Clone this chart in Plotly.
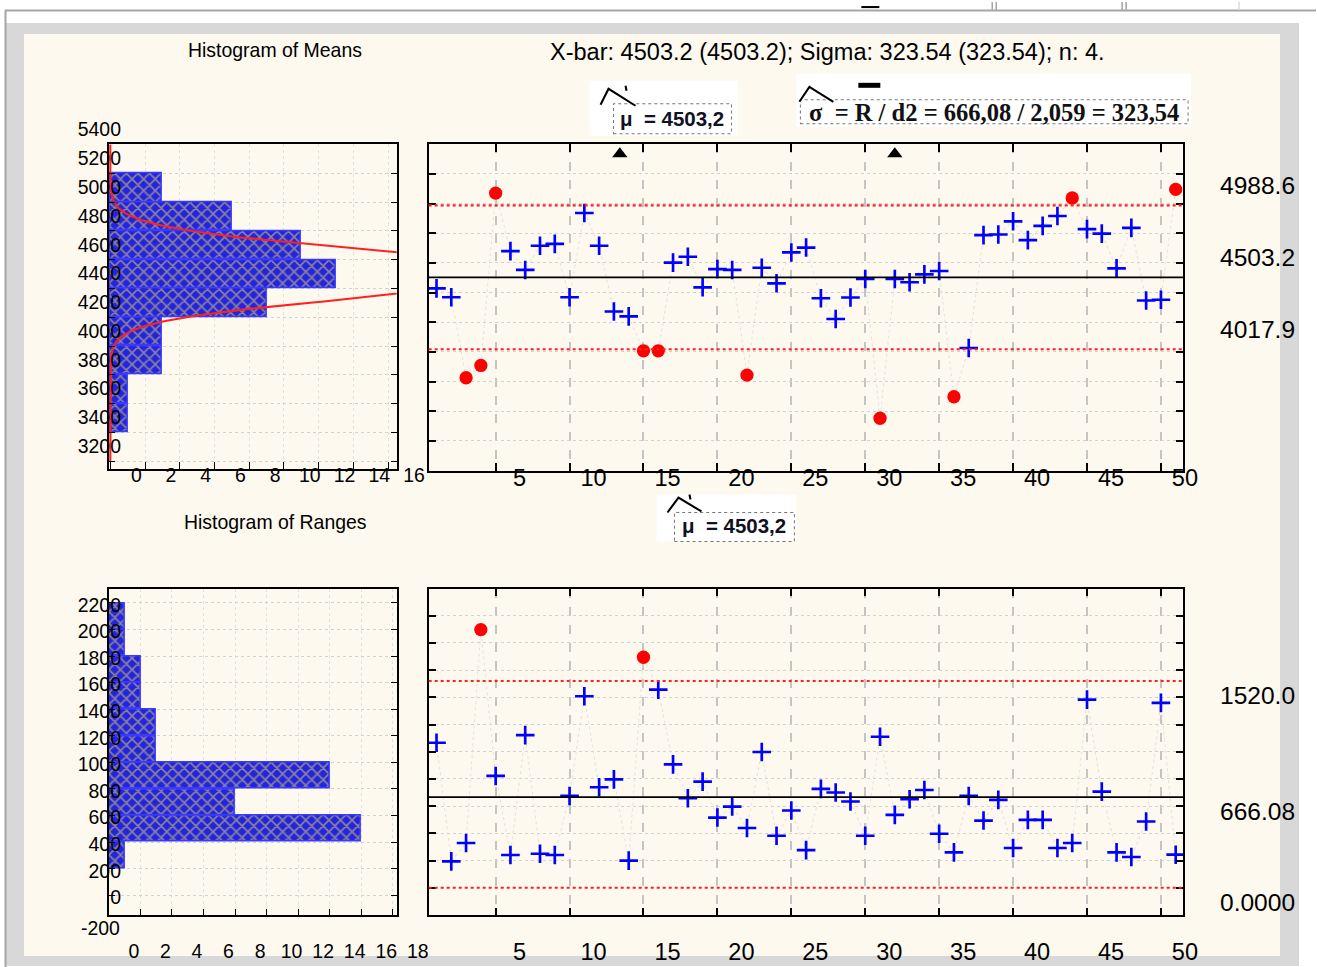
import numpy as np
import plotly.graph_objects as go

# reference canvas (px) and render canvas
W, H = 1317, 967
W2, H2 = 1348, 990
K = W2 / W
DY = 24  # vertical offset applied by the page capture

# ---------------- data ----------------
samples = list(range(1, 52))
means = [4429, 4369, 3826, 3909, 5071, 4680, 4553, 4716, 4729, 4369,
         4937, 4716, 4273, 4240, 4008, 4008, 4602, 4642, 4436, 4559,
         4553, 3844, 4568, 4463, 4671, 4704, 4362, 4222, 4367, 4492,
         3553, 4492, 4470, 4523, 4546, 3698, 4027, 4788, 4792, 4881,
         4754, 4850, 4917, 5038, 4828, 4798, 4564, 4837, 4347, 4352, 5096]
ranges = [1066, 194, 329, 1898, 822, 241, 1122, 250, 241, 675,
          1408, 739, 797, 199, 1695, 1457, 907, 658, 780, 516,
          597, 439, 998, 382, 568, 277, 727, 700, 634, 382,
          1110, 536, 651, 719, 397, 260, 675, 494, 646, 292,
          499, 499, 292, 329, 1383, 707, 260, 226, 487, 1359, 243]

xbar_center, xbar_ucl, xbar_lcl = 4503.2, 4988.6, 4017.9
r_center, r_ucl, r_lcl = 666.08, 1520.0, 0.0
sigma, n_size = 323.54, 4

mean_bin_centers = [3500, 3700, 3900, 4100, 4300, 4500, 4700, 4900, 5100]
mean_bin_counts = [1, 1, 3, 3, 9, 13, 11, 7, 3]
range_bin_centers = [300, 500, 700, 900, 1100, 1300, 1500, 1700, 1900, 2100]
range_bin_counts = [1, 16, 8, 14, 3, 3, 2, 2, 1, 1]

sample_ticks = [5, 10, 15, 20, 25, 30, 35, 40, 45, 50]
mean_ticks = list(range(3200, 5401, 200))
range_ticks = list(range(0, 2201, 200))
hist_mean_xticks = list(range(0, 17, 2))
hist_range_xticks = list(range(0, 19, 2))
flag_x = [13.4, 32.0]

xbar_labels = ["4988.6", "4503.2", "4017.9"]
r_labels = ["1520.0", "666.08", "0.0000"]
title_text = "X-bar: 4503.2 (4503.2); Sigma: 323.54 (323.54); n: 4."

# ---------------- helpers ----------------
def fx(p):
    return p / W

def fy(p):
    return 1 - (p - DY) / H

def k(v):
    return v * K

def ki(v):
    return int(round(v * K))

SANS = "Liberation Sans, Arial, sans-serif"
SERIF = "Liberation Serif, Times New Roman, serif"

fig = go.Figure()

# ---- histogram of means ----
pattern = dict(shape="x", fgcolor="#f0e448", bgcolor="#2424e0", size=k(8), solidity=0.36)
bar_marker = dict(color="#2424e0", line=dict(color="#3a3aff", width=k(1.5)), pattern=pattern)
fig.add_trace(go.Bar(orientation="h", y=mean_bin_centers, x=mean_bin_counts, width=196,
                     xaxis="x2", yaxis="y2", marker=bar_marker))
sig_m = sigma / np.sqrt(n_size)
ycurve = np.linspace(3200, 5400, 400)
peak = sum(mean_bin_counts) * 200 / (sig_m * np.sqrt(2 * np.pi))
xcurve = peak * np.exp(-0.5 * ((ycurve - xbar_center) / sig_m) ** 2)
fig.add_trace(go.Scatter(x=xcurve, y=ycurve, mode="lines", xaxis="x2", yaxis="y2",
                         line=dict(color="#ff2020", width=k(2))))

# ---- histogram of ranges ----
fig.add_trace(go.Bar(orientation="h", y=range_bin_centers, x=range_bin_counts, width=196,
                     xaxis="x4", yaxis="y4", marker=bar_marker))

# ---- control charts ----
def split(vals, lo, hi):
    inx, iny, outx, outy = [], [], [], []
    for s, v in zip(samples, vals):
        if v > hi or v < lo:
            outx.append(s); outy.append(v)
        else:
            inx.append(s); iny.append(v)
    return inx, iny, outx, outy

for vals, lo, hi, xa, ya in [(means, xbar_lcl, xbar_ucl, "x", "y"),
                             (ranges, r_lcl, r_ucl, "x3", "y3")]:
    fig.add_trace(go.Scatter(x=samples, y=vals, mode="lines", xaxis=xa, yaxis=ya,
                             line=dict(color="#e2e2e2", width=k(1), dash="dot")))
    inx, iny, outx, outy = split(vals, lo, hi)
    fig.add_trace(go.Scatter(x=inx, y=iny, mode="markers", xaxis=xa, yaxis=ya,
                             marker=dict(symbol="cross-thin", size=k(13),
                                         line=dict(color="#0000ff", width=k(2.6)))))
    fig.add_trace(go.Scatter(x=outx, y=outy, mode="markers", xaxis=xa, yaxis=ya,
                             marker=dict(symbol="circle", size=k(13), color="#ff0000")))

fig.add_trace(go.Scatter(x=flag_x, y=[mean_ticks[-1] - 65] * len(flag_x), mode="markers",
                         xaxis="x", yaxis="y",
                         marker=dict(symbol="triangle-up", size=k(13), color="black")))

# ---------------- axes ----------------
tickfont_main = dict(family=SANS, size=k(23), color="black")
tickfont_hist = dict(family=SANS, size=k(19), color="black")
common = dict(showline=True, linecolor="black", linewidth=k(2), zeroline=False,
              ticks="inside", tickcolor="black")

main_x = dict(domain=[fx(429), fx(1184)], range=[0.47, 51.5], tickvals=sample_ticks,
              mirror="ticks", ticklen=k(7), tickwidth=k(1.5), showgrid=True, gridcolor="#c4c4c4",
              gridwidth=k(1.5), griddash="dash", tickfont=tickfont_main, ticklabelshift=ki(23), **common)
main_y = dict(side="right", showticklabels=False, mirror="ticks", ticklen=k(7), tickwidth=k(1.5),
              showgrid=True, gridcolor="#d2d2d2", griddash="dot", gridwidth=k(1), **common)

fig.update_layout(
    xaxis=dict(anchor="y", ticklabelstandoff=ki(-15), **main_x),
    yaxis=dict(anchor="x", domain=[fy(470), fy(142.7)], range=[3200, 5400],
               tickvals=mean_ticks, **main_y),
    xaxis3=dict(anchor="y3", ticklabelstandoff=ki(15), **main_x),
    yaxis3=dict(anchor="x3", domain=[fy(915.7), fy(588.3)], range=[-200, 2200],
                tickvals=range_ticks, **main_y),
    xaxis2=dict(anchor="y2", domain=[fx(109), fx(397)], range=[-0.08, 16.5],
                tickvals=hist_mean_xticks, mirror=True, ticklen=k(6), showgrid=True,
                gridcolor="#e2e2e2", griddash="dot", tickfont=tickfont_hist,
                ticklabelshift=ki(25), ticklabelstandoff=ki(-12), **common),
    yaxis2=dict(anchor="x2", domain=[fy(468), fy(142.7)], range=[3148, 5402],
                tickvals=mean_ticks, mirror="ticks", ticklen=k(6), showgrid=True,
                gridcolor="#d2d2d2", griddash="dot", tickfont=tickfont_hist,
                ticklabelshift=ki(-15), ticklabelstandoff=ki(-18), **common),
    xaxis4=dict(anchor="y4", domain=[fx(109), fx(397)], range=[0, 18.25],
                tickvals=hist_range_xticks, mirror=True, ticklen=k(6), showgrid=True,
                gridcolor="#e2e2e2", griddash="dot", tickfont=tickfont_hist,
                ticklabelshift=ki(24), ticklabelstandoff=ki(18), **common),
    yaxis4=dict(anchor="x4", domain=[fy(915.7), fy(588.3)], range=[-148, 2308],
                tickvals=range_ticks, mirror="ticks", ticklen=k(6), showgrid=True,
                gridcolor="#d2d2d2", griddash="dot", tickfont=tickfont_hist,
                ticklabelshift=ki(2), ticklabelstandoff=ki(-18), **common),
)

# ---------------- shapes ----------------
shapes = []
shapes.append(dict(type="rect", xref="paper", yref="paper", x0=fx(6), x1=fx(1300), y0=fy(967), y1=fy(21),
                   fillcolor="#d8d8d8", line=dict(width=0), layer="below"))
shapes.append(dict(type="rect", xref="paper", yref="paper", x0=fx(24), x1=fx(1281), y0=fy(957), y1=fy(32),
                   fillcolor="#fdf9ef", line=dict(width=0), layer="below"))
shapes.append(dict(type="line", xref="paper", yref="paper", x0=fx(5), x1=1, y0=fy(8.5), y1=fy(8.5),
                   line=dict(color="#a6a6a6", width=k(2)), layer="below"))
shapes.append(dict(type="line", xref="paper", yref="paper", x0=fx(5.5), x1=fx(5.5), y0=0, y1=fy(8.5),
                   line=dict(color="#a6a6a6", width=k(2)), layer="below"))
for xv in [993, 997, 1123, 1127]:
    shapes.append(dict(type="line", xref="paper", yref="paper", x0=fx(xv), x1=fx(xv), y0=fy(8), y1=fy(0),
                       line=dict(color="#a6a6a6", width=k(1.5))))
shapes.append(dict(type="line", xref="paper", yref="paper", x0=fx(1240), x1=fx(1240), y0=fy(8), y1=fy(0),
                   line=dict(color="#dcdcdc", width=k(1.5))))
shapes.append(dict(type="line", xref="paper", yref="paper", x0=fx(862), x1=fx(880), y0=fy(5), y1=fy(5),
                   line=dict(color="black", width=k(2))))

for ya, val, col, dash, wd in [("y", xbar_ucl, "#ff2020", "dot", 2), ("y", xbar_lcl, "#ff2020", "dot", 2),
                               ("y", xbar_center, "black", "solid", 1.6),
                               ("y3", r_ucl, "#ff2020", "dot", 2), ("y3", r_lcl, "#ff2020", "dot", 2),
                               ("y3", r_center, "black", "solid", 1.6)]:
    xr = "x domain" if ya == "y" else "x3 domain"
    shapes.append(dict(type="line", xref=xr, yref=ya, x0=0, x1=1, y0=val, y1=val,
                       line=dict(color=col, dash=dash, width=k(wd))))

def box(x0, y0, x1, y1, **kw):
    return dict(type="rect", xref="paper", yref="paper", x0=fx(x0), x1=fx(x1), y0=fy(y1), y1=fy(y0), **kw)

shapes.append(box(590, 79, 738, 134, fillcolor="white", line=dict(width=0)))
shapes.append(box(614, 102, 732, 132, line=dict(color="#777777", width=k(1), dash="dot")))
shapes.append(box(797, 72, 1192, 125, fillcolor="white", line=dict(width=0)))
shapes.append(box(801, 98, 1189, 122, line=dict(color="#777777", width=k(1), dash="dot")))
shapes.append(box(657, 494, 797, 541, fillcolor="white", line=dict(width=0)))
shapes.append(box(675, 512, 795, 541, line=dict(color="#777777", width=k(1), dash="dot")))
shapes.append(box(859, 81, 881, 86, fillcolor="black", line=dict(width=0)))

def hat(pts):
    path = "M " + " L ".join(f"{fx(a)},{fy(b)}" for a, b in pts)
    return dict(type="path", xref="paper", yref="paper", path=path, line=dict(color="black", width=k(2)))

shapes.append(hat([(601, 103), (609, 87), (636, 104)]))
shapes.append(hat([(626, 84), (627, 89)]))
shapes.append(hat([(800, 100), (810, 85), (834, 100)]))
shapes.append(hat([(668, 512), (679, 497), (702, 511)]))
shapes.append(hat([(690, 494), (691, 499)]))

fig.update_layout(shapes=shapes)

# ---------------- annotations ----------------
def txt(text, x, y, font, xanchor="center"):
    return dict(text=text, xref="paper", yref="paper", x=fx(x), y=fy(y), xanchor=xanchor,
                yanchor="middle", showarrow=False, font=font)

ann = [
    txt(title_text, 828, 50, dict(family=SANS, size=k(23), color="black")),
    txt("Histogram of Means", 275, 48, dict(family=SANS, size=k(19), color="black")),
    txt("Histogram of Ranges", 276, 522, dict(family=SANS, size=k(19), color="black")),
    txt("μ  = 4503,2", 673, 117, dict(family=SANS, size=k(20), color="#111122", weight="bold")),
    txt("μ  = 4503,2", 735, 525, dict(family=SANS, size=k(20), color="#111122", weight="bold")),
    txt("σ  = R / d2 = 666,08 / 2,059 = 323,54", 995, 111,
        dict(family=SERIF, size=k(24), color="#111111", weight="bold")),
    txt("-200", 122, 929, tickfont_hist, xanchor="right"),
]
for val, lab in zip([xbar_ucl, xbar_center, xbar_lcl], xbar_labels):
    ann.append(dict(text=lab, xref="x domain", yref="y", x=1, y=val, xanchor="left", yanchor="middle",
                    xshift=k(34), yshift=k(19), showarrow=False,
                    font=dict(family=SANS, size=k(24), color="black")))
for val, lab in zip([r_ucl, r_center, r_lcl], r_labels):
    ann.append(dict(text=lab, xref="x3 domain", yref="y3", x=1, y=val, xanchor="left", yanchor="middle",
                    xshift=k(34), yshift=k(-14), showarrow=False,
                    font=dict(family=SANS, size=k(24), color="black")))
fig.update_layout(annotations=ann)

fig.update_layout(width=W2, height=H2, margin=dict(l=0, r=0, t=0, b=0),
                  paper_bgcolor="white", plot_bgcolor="white", showlegend=False,
                  bargap=0)

fig.write_html("out.html")
